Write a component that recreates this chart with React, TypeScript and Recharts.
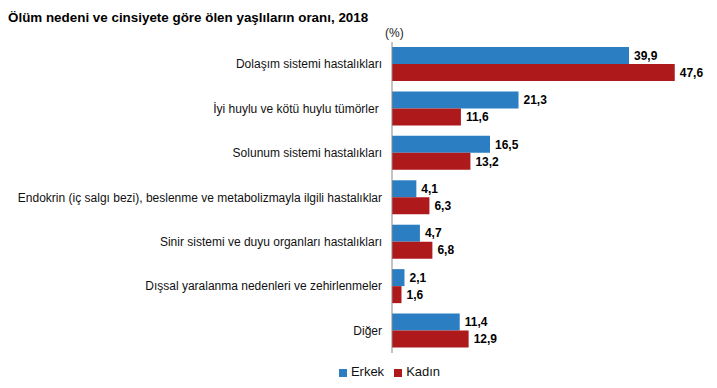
import React from "react";
import { BarChart, Bar, XAxis, YAxis, Legend, LabelList } from "recharts";

const categories = [
  "Dolaşım sistemi hastalıkları",
  "İyi huylu ve kötü huylu tümörler ",
  "Solunum sistemi hastalıkları",
  "Endokrin (iç salgı bezi), beslenme ve metabolizmayla ilgili hastalıklar",
  "Sinir sistemi ve duyu organları hastalıkları",
  "Dışsal yaralanma nedenleri ve zehirlenmeler",
  "Diğer",
];
const erkek = [39.9, 21.3, 16.5, 4.1, 4.7, 2.1, 11.4];
const kadin = [47.6, 11.6, 13.2, 6.3, 6.8, 1.6, 12.9];

const data = categories.map((name, i) => ({ name, erkek: erkek[i], kadin: kadin[i] }));

const BLUE = "#2B7EC2";
const RED = "#AE191C";
const FONT = "Arial, 'Liberation Sans', sans-serif";

const fmt = (v: any) => String(v).replace(".", ",");

// single-line category label, right-aligned against the axis
const CategoryTick = (props: any) => {
  const { x, y, payload } = props;
  return (
    <text x={x} y={y} dy={4} textAnchor="end" fill="#111" fontSize={12} fontFamily={FONT} style={{ whiteSpace: "pre" }}>
      {payload.value}
    </text>
  );
};

export default function App() {
  return (
    <div style={{ position: "absolute", left: 0, top: 0, width: 717, height: 388, background: "#fff", fontFamily: FONT }}>
      <div style={{ position: "absolute", left: 8, top: 10, fontSize: 13.4, fontWeight: "bold", color: "#000", whiteSpace: "nowrap" }}>
        Ölüm nedeni ve cinsiyete göre ölen yaşlıların oranı, 2018
      </div>
      <div style={{ position: "absolute", left: 385, top: 26, fontSize: 12, color: "#222" }}>(%)</div>
      <BarChart
        width={717}
        height={388}
        data={data}
        layout="vertical"
        margin={{ top: 42, right: 28, bottom: 35, left: 0 }}
        barGap={0}
        barSize={17}
      >
        <XAxis type="number" domain={[0, 50]} hide />
        <YAxis
          type="category"
          dataKey="name"
          width={392}
          tickLine={false}
          tickSize={0}
          tickMargin={10}
          axisLine={{ stroke: "#888" }}
          tick={<CategoryTick />}
          interval={0}
        />
        <Legend
          layout="horizontal"
          verticalAlign="middle"
          align="center"
          iconType="square"
          iconSize={8}
          wrapperStyle={{ top: 364, left: 36, width: 717, fontFamily: FONT, fontSize: 13 }}
          formatter={(v: any) => <span style={{ color: "#111" }}>{v}</span>}
        />
        <Bar dataKey="erkek" name="Erkek" fill={BLUE} isAnimationActive={false}>
          <LabelList dataKey="erkek" position="right" offset={5} formatter={fmt} style={{ fill: "#000", fontSize: 12, fontWeight: "bold", fontFamily: FONT }} />
        </Bar>
        <Bar dataKey="kadin" name="Kadın" fill={RED} isAnimationActive={false}>
          <LabelList dataKey="kadin" position="right" offset={5} formatter={fmt} style={{ fill: "#000", fontSize: 12, fontWeight: "bold", fontFamily: FONT }} />
        </Bar>
      </BarChart>
    </div>
  );
}
